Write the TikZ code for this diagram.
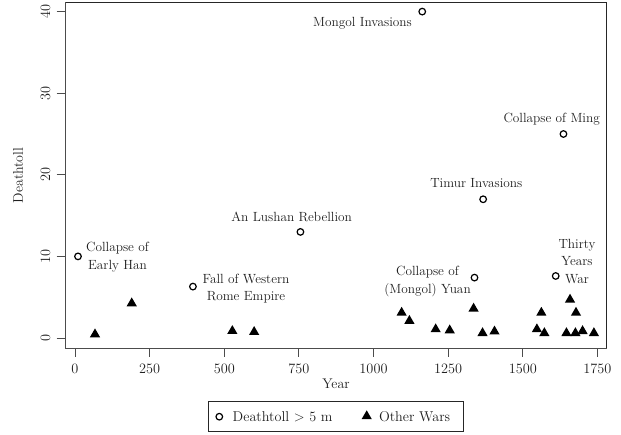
\documentclass[tikz,border=0pt]{standalone}
\usepackage{fontspec}
\usetikzlibrary{shapes.geometric}
\begin{document}
\begin{tikzpicture}[x=1pt,y=-1pt,
  lbl/.style={font=\fontsize{13.3}{17.5}\selectfont, align=center, inner sep=0pt, text=black!88},
  ticklbl/.style={font=\fontsize{14.3}{16}\selectfont, inner sep=0pt, text=black!88},
  axlbl/.style={font=\fontsize{14}{16}\selectfont, inner sep=0pt, text=black!88},
  leglbl/.style={font=\fontsize{14.2}{16}\selectfont, inner sep=0pt, anchor=west, text=black!88},
  axisline/.style={draw=black!70, line width=0.9pt},
  framebox/.style={draw=black!85, line width=0.9pt},
  ringmark/.style={circle, draw=black, line width=1.2pt, minimum size=6.6pt, inner sep=0pt},
  trimark/.style={regular polygon, regular polygon sides=3, fill=black, minimum size=11.8pt, inner sep=0pt}]
\useasboundingbox (0,0) rectangle (621,435);
% frame and axes
\draw[framebox] (65,2.5) -- (606.7,2.5) -- (606.7,348.3);
\coordinate (tl) at (65,2.5);
\coordinate (bl) at (65,348.3);
\coordinate (br) at (606.7,348.3);
\draw[axisline] (tl) -- (bl) -- (br);
% y ticks
\foreach \v/\yy in {0/338, 10/256.4, 20/174.8, 30/93.2, 40/11.6} {
  \draw[axisline] (56.7,\yy) -- (65,\yy);
  \node[ticklbl, rotate=90] (yt\v) at (45.5,\yy) {\v};
}
% x ticks
\foreach \v/\xx in {0/75, 250/149.6, 500/224.3, 750/298.9, 1000/373.5, 1250/448.2, 1500/522.8, 1750/597.4} {
  \draw[axisline] (\xx,348.3) -- (\xx,356.7);
  \node[ticklbl] (xt\v) at (\xx,368.5) {\v};
}
\node[axlbl] (xlab) at (336,384) {Year};
\node[axlbl, rotate=90] (ylab) at (18,175.5) {Deathtoll};
% data
\begin{scope}[shift={(75,338)}, x=0.29857pt, y=8.16pt]
  \foreach \a/\b [count=\i] in {10/10, 395/6.3, 755/13, 1163/40, 1636/25, 1367/17, 1338/7.4, 1610/7.6}
    \node[ringmark] (c\i) at (\a,\b) {};
  \foreach \a/\b [count=\i] in {67/0.45, 190/4.25, 527/0.86, 600/0.74, 1094/3.1, 1120/2.1, 1208/1.07, 1255/0.94, 1335/3.6, 1365/0.6, 1405/0.8, 1547/1.07, 1562/3.1, 1572/0.6, 1658/4.7, 1678/3.1, 1646/0.6, 1676/0.6, 1700/0.85, 1738/0.6}
    \node[trimark] (t\i) at (\a,\b) {};
\end{scope}
% labels
\node[lbl] (l1) at (117.5,257) {Collapse of\\Early Han};
\node[lbl] (l2) at (246,288.5) {Fall of Western\\Rome Empire};
\node[lbl] (l3) at (291.7,216.5) {An Lushan Rebellion};
\node[lbl] (l4) at (362.5,23) {Mongol Invasions};
\node[lbl] (l5) at (551.7,119) {Collapse of Ming};
\node[lbl] (l6) at (476.3,183.5) {Timur Invasions};
\node[lbl] (l7) at (427.5,281.5) {Collapse of\\(Mongol) Yuan};
\node[lbl] (l8) at (577,261.5) {Thirty\\Years\\War};
% legend
\draw[framebox, line width=0.8pt] (208.3,401.7) rectangle (463.3,431.7);
\node[ringmark] (lgc) at (219.3,416.7) {};
\node[leglbl] (lgct) at (232.5,416.7) {Deathtoll \textgreater{} 5 m};
\node[trimark] (lgt) at (366.7,416.2) {};
\node[leglbl] (lgtt) at (378.8,416.7) {Other Wars};
\end{tikzpicture}
\end{document}
